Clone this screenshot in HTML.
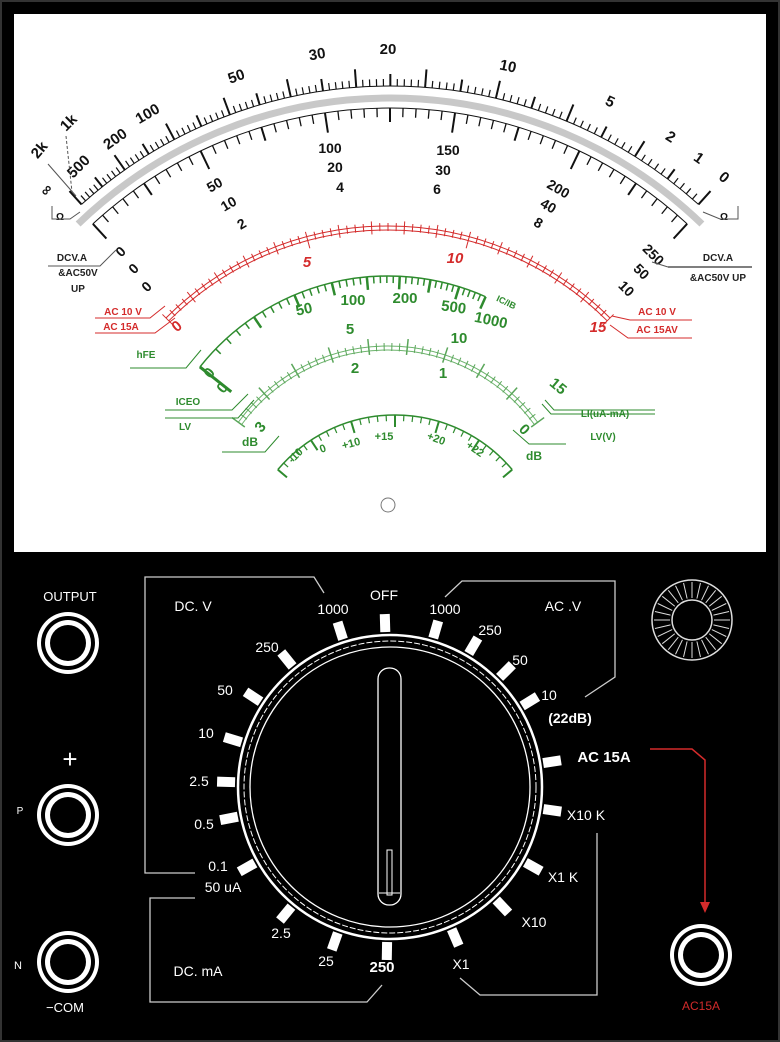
<!DOCTYPE html>
<html><head><meta charset="utf-8"><style>
html,body{margin:0;padding:0;background:#000}
svg{display:block}
text{font-family:"Liberation Sans",Arial,sans-serif;font-weight:bold}
.n text{font-weight:normal}
.n text.b{font-weight:bold}
</style></head><body>
<svg id="s" width="780" height="1042" viewBox="0 0 780 1042" xmlns="http://www.w3.org/2000/svg">
<rect x="0" y="0" width="780" height="1042" fill="#000"/>
<rect x="1" y="1" width="778" height="1040" fill="none" stroke="#333" stroke-width="2"/>
<rect x="14" y="14" width="752" height="538" fill="#fff"/>
<g id="ticks"></g>

<g font-size="15" fill="#111" text-anchor="middle">
<text x="388" y="54">20</text>
<text x="318" y="59" transform="rotate(-10 318 59)">30</text>
<text x="238" y="81" transform="rotate(-20 238 81)">50</text>
<text x="150" y="118" transform="rotate(-30 150 118)">100</text>
<text x="118" y="143" transform="rotate(-35 118 143)">200</text>
<text x="82" y="170" transform="rotate(-45 82 170)">500</text>
<text x="72" y="126" transform="rotate(-45 72 126)">1k</text>
<text x="43" y="153" transform="rotate(-50 43 153)">2k</text>
<text x="50" y="193" transform="rotate(-50 50 193)">∞</text>
<text x="507" y="71" transform="rotate(12 507 71)">10</text>
<text x="608" y="106" transform="rotate(25 608 106)">5</text>
<text x="668" y="141" transform="rotate(32 668 141)">2</text>
<text x="696" y="162" transform="rotate(35 696 162)">1</text>
<text x="721" y="181" transform="rotate(40 721 181)">0</text>
</g>
<text x="56" y="220" font-size="10" fill="#111">Ω</text>
<text x="720" y="220" font-size="10" fill="#111">Ω</text>
<polyline points="52,206 52,219 70,219 80,212" fill="none" stroke="#555" stroke-width="1"/>
<polyline points="738,206 738,219 720,219 703,212" fill="none" stroke="#555" stroke-width="1"/>
<line x1="48" y1="164" x2="76" y2="196" stroke="#555" stroke-width="1"/>
<line x1="66" y1="136" x2="72" y2="192" stroke="#555" stroke-width="1" stroke-dasharray="3,2"/>

<g font-size="14" fill="#111" text-anchor="middle">
<text x="330" y="153">100</text><text x="335" y="172">20</text><text x="340" y="192">4</text>
<text x="448" y="155">150</text><text x="443" y="175">30</text><text x="437" y="194">6</text>
<text x="217" y="189" transform="rotate(-30 217 189)">50</text>
<text x="231" y="208" transform="rotate(-30 231 208)">10</text>
<text x="244" y="228" transform="rotate(-30 244 228)">2</text>
<text x="556" y="193" transform="rotate(30 556 193)">200</text>
<text x="546" y="210" transform="rotate(30 546 210)">40</text>
<text x="536" y="227" transform="rotate(30 536 227)">8</text>
<text x="124" y="255" transform="rotate(-45 124 255)">0</text>
<text x="137" y="272" transform="rotate(-45 137 272)">0</text>
<text x="150" y="290" transform="rotate(-45 150 290)">0</text>
<text x="650" y="258" transform="rotate(45 650 258)">250</text>
<text x="638" y="275" transform="rotate(45 638 275)">50</text>
<text x="623" y="292" transform="rotate(45 623 292)">10</text>
</g>
<g font-size="10" fill="#222" text-anchor="middle">
<text x="72" y="261">DCV.A</text><text x="78" y="276">&amp;AC50V</text><text x="78" y="292">UP</text>
<text x="718" y="261">DCV.A</text><text x="718" y="281">&amp;AC50V UP</text>
</g>
<polyline points="48,266 100,266 116,250" fill="none" stroke="#555" stroke-width="1"/>
<line x1="668" y1="267" x2="752" y2="267" stroke="#333" stroke-width="1.2"/>
<line x1="652" y1="262" x2="668" y2="267" stroke="#555" stroke-width="1"/>

<g fill="#d42b2b" text-anchor="middle">
<text x="307" y="267" font-size="15" font-style="italic">5</text>
<text x="455" y="263" font-size="15" font-style="italic">10</text>
<text x="180" y="330" font-size="15" transform="rotate(-40 180 330)">0</text>
<text x="598" y="332" font-size="15" font-style="italic">15</text>
<g font-size="10"><text x="123" y="315">AC 10 V</text><text x="121" y="330">AC 15A</text>
<text x="657" y="315">AC 10 V</text><text x="657" y="333">AC 15AV</text></g>
</g>
<g fill="none" stroke="#d42b2b" stroke-width="1">
<polyline points="95,318 150,318 165,306"/>
<polyline points="95,333 155,333 175,318"/>
<polyline points="612,316 630,320 692,320"/>
<polyline points="610,325 628,338 692,338"/>
</g>

<g fill="#2e8b2e" text-anchor="middle" font-size="15">
<text x="305" y="314" transform="rotate(-12 305 314)">50</text>
<text x="353" y="305">100</text><text x="405" y="303">200</text>
<text x="453" y="312" transform="rotate(8 453 312)">500</text>
<text x="490" y="325" transform="rotate(12 490 325)">1000</text>
<text x="505" y="305" font-size="9" transform="rotate(25 505 305)">IC/IB</text>
<text x="350" y="334">5</text><text x="459" y="343">10</text>
<text x="355" y="373">2</text><text x="443" y="378">1</text>
<text x="555" y="390" transform="rotate(40 555 390)">15</text>
<text x="213" y="376" transform="rotate(-50 213 376)">0</text>
<text x="226" y="391" transform="rotate(-50 226 391)">0</text>
<text x="264" y="430" transform="rotate(-50 264 430)">3</text>
<text x="521" y="433" transform="rotate(45 521 433)">0</text>
<g font-size="11">
<text x="298" y="458" transform="rotate(-45 298 458)">-10</text>
<text x="324" y="452" transform="rotate(-20 324 452)">0</text>
<text x="352" y="447" transform="rotate(-15 352 447)">+10</text>
<text x="384" y="440">+15</text>
<text x="435" y="442" transform="rotate(20 435 442)">+20</text>
<text x="473" y="452" transform="rotate(35 473 452)">+22</text>
</g>
<g font-size="10"><text x="146" y="358">hFE</text><text x="188" y="405">ICEO</text><text x="185" y="430">LV</text>
<text x="605" y="417">LI(uA-mA)</text><text x="603" y="440">LV(V)</text></g>
<text x="250" y="446" font-size="12">dB</text><text x="534" y="460" font-size="12">dB</text>
</g>
<g fill="none" stroke="#2e8b2e" stroke-width="1">
<polyline points="130,368 186,368 201,350"/>
<polyline points="165,410 232,410 248,394"/>
<polyline points="165,418 238,418 254,400"/>
<polyline points="545,400 554,410 655,410"/>
<polyline points="542,404 551,414 655,414"/>
<polyline points="222,452 265,452 279,436"/>
<polyline points="513,430 529,444 566,444"/>
</g>
<circle cx="388" cy="505" r="7" fill="#fff" stroke="#777" stroke-width="1"/>

<g id="jacks"></g>
<g class="n" fill="#fff" font-size="14" text-anchor="middle">
<text x="70" y="601" font-size="13">OUTPUT</text>
<text x="70" y="768" font-size="26">+</text>
<text x="20" y="814" font-size="10">P</text>
<text x="18" y="969" font-size="11">N</text>
<text x="65" y="1012" font-size="13">−COM</text>
<text x="193" y="611">DC. V</text>
<text x="333" y="614">1000</text><text x="384" y="600">OFF</text><text x="445" y="614">1000</text>
<text x="563" y="611">AC .V</text>
<text x="267" y="652">250</text><text x="490" y="635">250</text>
<text x="225" y="695">50</text><text x="520" y="665">50</text>
<text x="206" y="738">10</text><text x="549" y="700">10</text>
<text x="199" y="786">2.5</text>
<text x="204" y="829">0.5</text><text x="586" y="820">X10 K</text>
<text x="218" y="871">0.1</text><text x="223" y="892">50 uA</text>
<text x="563" y="882">X1 K</text><text x="534" y="927">X10</text>
<text x="281" y="938">2.5</text><text x="326" y="966">25</text>
<text x="461" y="969">X1</text><text x="198" y="976">DC. mA</text>
<text class="b" x="570" y="723">(22dB)</text>
<text class="b" x="604" y="762" font-size="15">AC 15A</text>
<text class="b" x="382" y="972" font-size="15">250</text>
<text x="701" y="1010" fill="#d42b2b" font-size="12">AC15A</text>
</g>
<g fill="none" stroke="#ccc" stroke-width="1.3">
<polyline points="324,593 314,577 145,577 145,873 195,873"/>
<polyline points="195,898 150,898 150,1002 367,1002 382,985"/>
<polyline points="445,597 462,581 615,581 615,677 585,697"/>
<polyline points="460,978 480,995 597,995 597,833"/>
</g>
<polyline points="650,749 692,749 705,760 705,903" fill="none" stroke="#d42b2b" stroke-width="1.5"/>
<polygon points="700,902 710,902 705,913" fill="#d42b2b"/>
<g id="dial"></g>
</svg>
<script>
var NS="http://www.w3.org/2000/svg";
function el(p,n,a){var e=document.createElementNS(NS,n);for(var k in a)e.setAttribute(k,a[k]);p.appendChild(e);return e;}
function P(cx,cy,r,a){var t=a*Math.PI/180;return [cx+r*Math.sin(t),cy-r*Math.cos(t)];}
var T=document.getElementById('ticks');
function arc(cx,cy,r,a1,a2,col,w){var p=P(cx,cy,r,a1),q=P(cx,cy,r,a2);el(T,'path',{d:'M'+p[0]+' '+p[1]+' A'+r+' '+r+' 0 0 1 '+q[0]+' '+q[1],fill:'none',stroke:col,'stroke-width':w});}
function tk(cx,cy,r1,r2,a,col,w){var p=P(cx,cy,r1,a),q=P(cx,cy,r2,a);el(T,'line',{x1:p[0],y1:p[1],x2:q[0],y2:q[1],stroke:col,'stroke-width':w});}
var cx=390,cy=547;
arc(cx,cy,449,-44,44,'#c8c8c8',7);
arc(cx,cy,461,-42,42,'#111',1);
for(var i=0;i<=100;i++){var f=i/100;var a=-42+84*(f*0.8+0.2*f*f);var L=(i%10==0)?18:(i%5==0)?12:7;tk(cx,cy,461,461+L,a,'#111',i%5==0?2:1.2);}
arc(cx,cy,439,-42.6,42.6,'#111',1);
for(var i=0;i<=50;i++){var a=-42.6+85.2*i/50;var L=(i%10==0)?20:(i%5==0)?14:9;tk(cx,cy,439,439-L,a,'#111',i%5==0?2:1.3);}
var R='#d42b2b';arc(388,540,314,-45,45,R,1);arc(388,540,310,-45,45,R,1);
for(var i=0;i<=60;i++){var a=-45+90*i/60;var L=(i%20==0)?12:(i%4==0)?8:5;tk(388,540,314+(i%4==0?5:3),314-L,a,R,1);}
var G='#2e8b2e';arc(388,516,240,-51.6,24,G,1.5);
for(var i=0;i<=40;i++){var f=i/40;var a=-51.6+75.6*Math.pow(f,0.7);var L=(i%5==0)?13:7;tk(388,516,240,240-L,a,G,i%5==0?2.5:1.5);}
tk(388,516,240,200,-51.6,G,3);
arc(388,531,185,-54,54,'#6cb36c',1);arc(388,531,181,-54,54,'#6cb36c',1);
for(var i=0;i<=45;i++){var a=-54+108*i/45;var L=(i%5==0)?10:5;tk(388,531,183+L,183-L*0.6,a,'#5aa65a',i%5==0?1.5:1);}
arc(395,568,153,-50,50,G,1.5);
for(var i=0;i<=30;i++){var a=-50+100*i/30;var L=(i%5==0)?12:6;tk(395,568,153,153-L,a,G,i%5==0?2:1.2);}
var J=document.getElementById('jacks');
[[68,643],[68,815],[68,962],[701,955]].forEach(function(j){
el(J,'circle',{cx:j[0],cy:j[1],r:31,fill:'#fff'});el(J,'circle',{cx:j[0],cy:j[1],r:27,fill:'#000'});
el(J,'circle',{cx:j[0],cy:j[1],r:23,fill:'#fff'});el(J,'circle',{cx:j[0],cy:j[1],r:18,fill:'#000'});});
el(J,'circle',{cx:692,cy:620,r:40,fill:'none',stroke:'#ddd','stroke-width':1.5});
el(J,'circle',{cx:692,cy:620,r:20,fill:'none',stroke:'#ddd','stroke-width':1.5});
for(var i=0;i<28;i++){var a=i*360/28;var p=P(692,620,22,a),q=P(692,620,38,a);el(J,'line',{x1:p[0],y1:p[1],x2:q[0],y2:q[1],stroke:'#ddd','stroke-width':1});}
var D=document.getElementById('dial');
el(D,'circle',{cx:390,cy:787,r:152,fill:'none',stroke:'#fff','stroke-width':2.5});
el(D,'circle',{cx:390,cy:787,r:146,fill:'none',stroke:'#fff','stroke-width':1,'stroke-dasharray':'6,2'});
el(D,'circle',{cx:390,cy:787,r:140,fill:'none',stroke:'#fff','stroke-width':1.3});
el(D,'rect',{x:378,y:668,width:23,height:237,rx:11,fill:'none',stroke:'#fff','stroke-width':1.3});
el(D,'rect',{x:387,y:850,width:5,height:45,fill:'none',stroke:'#fff','stroke-width':1});
el(D,'line',{x1:379,y1:893,x2:400,y2:893,stroke:'#fff','stroke-width':1});
var tabs=[[385,622],[341,633],[435,632],[289,662],[472,648],[505,672],[527,703],[255,698],[234,740],[229,782],[231,818],[246,868],[550,762],[550,810],[530,865],[501,905],[455,937],[387,947],[336,938],[287,912]];
tabs.forEach(function(t){var a=Math.atan2(t[0]-390,787-t[1])*180/Math.PI;var p=P(390,787,164,a);
el(D,'rect',{x:p[0]-5,y:p[1]-9,width:10,height:18,fill:'#fff',transform:'rotate('+a+' '+p[0]+' '+p[1]+')'});});
</script>
</body></html>
